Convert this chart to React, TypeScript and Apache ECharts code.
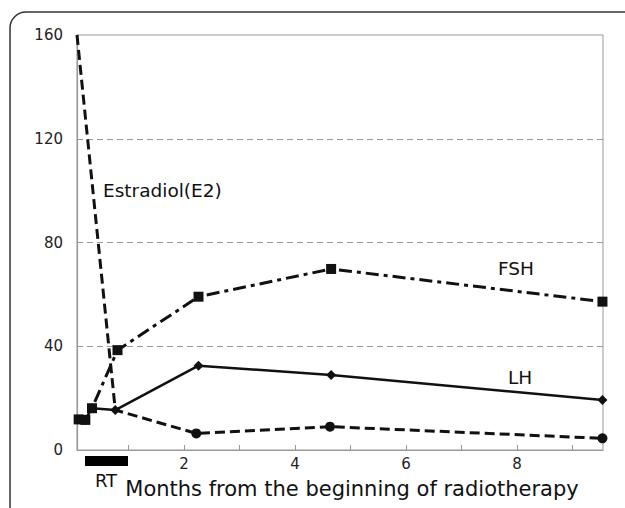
import React, { useEffect, useRef } from "react";
import * as echarts from "echarts";

const FONT = "DejaVu Sans";

const fshData: [number, number][] = [
  [0.1, 11.8], [0.22, 11.6], [0.34, 16.1], [0.8, 38.5], [2.26, 59.1], [4.65, 69.8], [9.54, 57.2],
];
const lhData: [number, number][] = [
  [0.1, 11.8], [0.22, 11.6], [0.34, 16.1], [0.76, 15.4], [2.26, 32.5], [4.65, 28.9], [9.54, 19.3],
];
const e2Data: [number, number][] = [
  [0.07, 160], [0.76, 15.4], [2.22, 6.4], [4.63, 9.0], [9.54, 4.5],
];
const e2Marked = [false, false, true, true, true];
const xTicks = [1, 2, 3, 4, 5, 6, 7, 8, 9];
const xLabels = [2, 4, 6, 8];
const seriesLabels = [
  { text: "Estradiol(E2)", x: 103, y: 190 },
  { text: "FSH", x: 498, y: 268 },
  { text: "LH", x: 508, y: 377 },
];

export default function App() {
  const ref = useRef<HTMLDivElement>(null);
  useEffect(() => {
    const chart = echarts.init(ref.current!, null, { renderer: "svg" });
    chart.setOption({
      animation: false,
      backgroundColor: "#fff",
      grid: {
        left: 77, top: 35, right: 22, bottom: 58,
        show: true, borderColor: "#999", borderWidth: 1,
      },
      xAxis: {
        type: "value", min: 0.07, max: 9.55,
        name: "Months from the beginning of radiotherapy",
        nameLocation: "middle", nameGap: 28,
        nameTextStyle: { fontFamily: FONT, fontSize: 21, color: "#111", padding: [0, 0, 0, 24] },
        axisLine: { lineStyle: { color: "#999", width: 1.2 } },
        axisTick: { show: true, inside: true, length: 5, customValues: xTicks, lineStyle: { color: "#999" } },
        axisLabel: { customValues: xLabels, fontFamily: FONT, fontSize: 15, color: "#222", margin: 6 },
        splitLine: { show: false },
      },
      yAxis: {
        type: "value", min: 0, max: 160, interval: 40,
        axisLine: { show: true, lineStyle: { color: "#999", width: 1.2 } },
        axisTick: { show: false },
        axisLabel: { fontFamily: FONT, fontSize: 15, color: "#222", margin: 14 },
        splitLine: { show: true, showMinLine: false, showMaxLine: false, lineStyle: { color: "#999", type: [6, 4], width: 1 } },
      },
      series: [
        {
          name: "E2", type: "line", z: 2,
          data: e2Data.map((d, i) => ({ value: d, symbol: e2Marked[i] ? "circle" : "none" })),
          symbolSize: 10,
          lineStyle: { color: "#111", width: 3, type: [10, 5] },
          itemStyle: { color: "#111" },
        },
        {
          name: "FSH", type: "line", z: 3, data: fshData, symbol: "rect", symbolSize: 10,
          lineStyle: { color: "#111", width: 3, type: [13, 5, 4, 5] },
          itemStyle: { color: "#111" },
        },
        {
          name: "LH", type: "line", z: 4, data: lhData, symbol: "diamond", symbolSize: 10,
          lineStyle: { color: "#111", width: 2.5 },
          itemStyle: { color: "#111" },
        },
      ],
      graphic: [
        {
          type: "rect", z: -1, silent: true,
          shape: { x: 10, y: 12, width: 700, height: 600, r: 16 },
          style: { fill: "none", stroke: "#333", lineWidth: 1.5 },
        },
        {
          type: "rect",
          shape: { x: 85, y: 456, width: 43, height: 10 },
          style: { fill: "#000" },
        },
        {
          type: "text", x: 106, y: 480,
          style: { text: "RT", fontFamily: FONT, fontSize: 18, fill: "#111", align: "center", verticalAlign: "middle" },
        },
        ...seriesLabels.map((l) => ({
          type: "text", x: l.x, y: l.y,
          style: { text: l.text, fontFamily: FONT, fontSize: 18.5, fill: "#111", align: "left", verticalAlign: "middle" },
        })),
      ],
    });
    return () => chart.dispose();
  }, []);
  return <div ref={ref} style={{ position: "absolute", left: 0, top: 0, width: 625, height: 508 }} />;
}
